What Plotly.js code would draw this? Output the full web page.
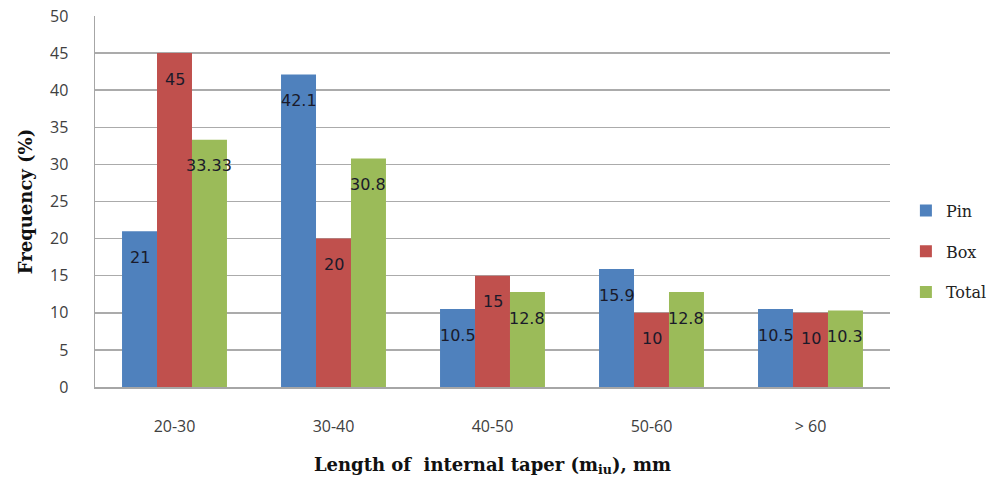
<!DOCTYPE html>
<html>
<head>
<meta charset="utf-8">
<script src="https://cdn.plot.ly/plotly-3.0.1.min.js"></script>
<style>
  html, body { margin: 0; padding: 0; background: #ffffff; }
  #chart { width: 996px; height: 487px; }
</style>
</head>
<body>
<div id="chart"></div>
<script>
// Length of internal taper classes (mm)
const categories = ['20-30', '30-40', '40-50', '50-60', '> 60'];

// Frequency (%) per class
const pinValues   = [21, 42.1, 10.5, 15.9, 10.5];
const boxValues   = [45, 20, 15, 10, 10];
const totalValues = [33.33, 30.8, 12.8, 12.8, 10.3];

// Value labels as printed on the bars
const pinLabels   = ['21', '42.1', '10.5', '15.9', '10.5'];
const boxLabels   = ['45', '20', '15', '10', '10'];
const totalLabels = ['33.33', '30.8', '12.8', '12.8', '10.3'];

const yTicks = [0, 5, 10, 15, 20, 25, 30, 35, 40, 45, 50];

const W = 996, H = 487;
const margin = { l: 95, r: 106, t: 16, b: 100, autoexpand: false };
const bargap = 0.34;

const series = [
  { name: 'Pin',   values: pinValues,   labels: pinLabels,   color: '#4F81BD' },
  { name: 'Box',   values: boxValues,   labels: boxLabels,   color: '#C0504D' },
  { name: 'Total', values: totalValues, labels: totalLabels, color: '#9BBB59' }
];

const traces = series.map((s, i) => ({
  type: 'bar',
  name: s.name,
  x: categories,
  y: s.values,
  marker: { color: s.color, line: { width: 0 } },
  legendgroup: 'g' + i,
  hoverinfo: 'x+y+name'
}));

// Pixel width of one bar within its category slot, used to centre labels on bars
const slotPx = (W - margin.l - margin.r) / categories.length;
const barPx = slotPx * (1 - bargap) / series.length;

const annotations = [];
series.forEach((s, i) => {
  s.values.forEach((v, j) => {
    annotations.push({
      x: categories[j],
      y: v,
      xref: 'x',
      yref: 'y',
      text: s.labels[j],
      showarrow: false,
      xanchor: 'center',
      yanchor: 'middle',
      xshift: (i - 1) * barPx,
      yshift: -26,
      font: { family: 'DejaVu Sans, sans-serif', size: 16, color: '#1a1a2a' }
    });
  });
});

const layout = {
  width: W,
  height: H,
  margin: margin,
  paper_bgcolor: '#ffffff',
  plot_bgcolor: '#ffffff',
  barmode: 'group',
  bargap: bargap,
  bargroupgap: 0,
  showlegend: true,
  legend: {
    x: 1.02,
    y: 0.365,
    xanchor: 'left',
    yanchor: 'middle',
    traceorder: 'grouped',
    tracegroupgap: 17,
    font: { family: 'DejaVu Serif, serif', size: 16, color: '#222222' },
    itemwidth: 30
  },
  xaxis: {
    type: 'category',
    tickfont: { family: 'Open Sans, sans-serif', size: 16, color: '#404040' },
    ticks: '',
    ticklabelstandoff: 24,
    showline: true,
    linecolor: '#a6a6a6',
    linewidth: 1.5,
    showgrid: false,
    zeroline: false,
    automargin: false,
    title: {
      text: 'Length of  internal taper (m<sub>iu</sub>), mm',
      font: { family: 'DejaVu Serif, serif', size: 18, color: '#111111', weight: 'bold' },
      standoff: 22
    }
  },
  yaxis: {
    range: [0, 50],
    tickvals: yTicks,
    ticktext: yTicks.map(String),
    tickfont: { family: 'Open Sans, sans-serif', size: 16, color: '#404040' },
    ticks: '',
    ticklabelstandoff: 22,
    showline: true,
    linecolor: '#a6a6a6',
    linewidth: 1.5,
    showgrid: true,
    gridcolor: '#ababab',
    gridwidth: 1.5,
    zeroline: false,
    automargin: false,
    title: {
      text: 'Frequency (%)',
      font: { family: 'DejaVu Serif, serif', size: 18, color: '#111111', weight: 'bold' },
      standoff: 12
    }
  },
  annotations: annotations
};

Plotly.newPlot('chart', traces, layout, { displayModeBar: false, staticPlot: true });
</script>
</body>
</html>
